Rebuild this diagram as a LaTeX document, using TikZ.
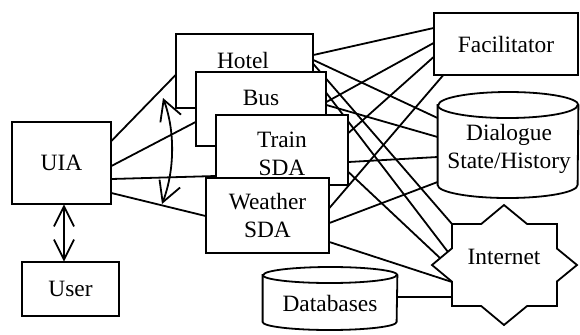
\documentclass[tikz,border=0pt]{standalone}
\usepackage{fontspec}
\setmainfont{Liberation Serif}
\usetikzlibrary{arrows.meta}
\begin{document}
\begin{tikzpicture}[x=0.5pt,y=-0.5pt,
  every node/.style={font=\fontsize{11.7}{14}\selectfont, inner sep=0pt, align=center},
  lw/.style={line width=0.9pt},
  box/.style={draw, fill=white, line width=0.9pt},
  conn/.style={line width=0.9pt},
  dbl/.style={line width=0.9pt, {Straight Barb[length=10pt,width=10pt]}-{Straight Barb[length=10pt,width=10pt]}},
  dblc/.style={line width=0.9pt, {Straight Barb[length=10pt,width=11pt]}-{Straight Barb[length=10pt,width=11pt]}}]
\useasboundingbox (0,0) rectangle (580,334);

% node frames (invisible anchors first)
\node[minimum width=49.5pt, minimum height=41pt] (uia) at (61.5,163) {};
\node[minimum width=48.5pt, minimum height=27pt] (user) at (70.5,289) {};
\node[minimum width=68.5pt, minimum height=37pt] (hotel) at (244.5,71) {};
\node[minimum width=65pt, minimum height=37pt] (bus) at (261,109) {};
\node[minimum width=66pt, minimum height=35pt] (train) at (282,150) {};
\node[minimum width=61.5pt, minimum height=37.5pt] (weather) at (267.5,215.5) {};
\node[minimum width=72pt, minimum height=31pt] (fac) at (506,44) {};
\node[minimum width=70pt, minimum height=53pt] (dlg) at (508,145) {};
\node[minimum width=67pt, minimum height=31.5pt] (db) at (330,298.5) {};

% Internet attachment points
\coordinate (i1) at (452,224);
\coordinate (i2) at (448,252);
\coordinate (i3) at (440,258);
\coordinate (i4) at (452,282);
\coordinate (i5) at (452,297);

% connectors on the right
\draw[conn] (hotel.east |- 0,55) -- (fac.west |- 0,28);
\draw[conn] (hotel.east |- 0,60) -- (dlg.west |- 0,118);
\draw[conn] (hotel.east |- 0,64) -- (i1);
\draw[conn] (bus.east |- 0,102) -- (fac.west |- 0,43);
\draw[conn] (bus.east |- 0,105) -- (dlg.west |- 0,137);
\draw[conn] (bus.east |- 0,93) -- (i2);
\draw[conn] (train.east |- 0,133) -- (fac.west |- 0,57);
\draw[conn] (train.east |- 0,162) -- (dlg.west |- 0,157);
\draw[conn] (train.east |- 0,172) -- (i3);
\draw[conn] (weather.east |- 0,208) -- (443,0 |- fac.south);
\draw[conn] (weather.east |- 0,223) -- (dlg.west |- 0,182);
\draw[conn] (weather.east |- 0,242) -- (i4);
\draw[conn] (db.east |- 0,297) -- (i5);

% connectors on the left
\draw[conn] (uia.east |- 0,141) -- (hotel.west |- 0,75);
\draw[conn] (uia.east |- 0,166) -- (bus.west |- 0,122);
\draw[conn] (uia.east |- 0,179) -- (train.west |- 0,176);
\draw[conn] (uia.east |- 0,193) -- (weather.west |- 0,216);

% boxes
\node[box, minimum width=49.5pt, minimum height=41pt] at (uia) {UIA};
\node[box, minimum width=48.5pt, minimum height=27pt] at (user) {User};
\node[box, minimum width=68.5pt, minimum height=37pt] at (hotel) {};
\node (hoteltxt) at (243,60) {Hotel};
\node[box, minimum width=65pt, minimum height=37pt] at (bus) {};
\node (bustxt) at (261,98) {Bus};
\node[box, minimum width=66pt, minimum height=35pt] at (train) {};
\node (traintxt) at (282,154) {Train\\SDA};
\node[box, minimum width=61.5pt, minimum height=37.5pt] at (weather) {Weather\\SDA};
\node[box, minimum width=72pt, minimum height=31pt] at (fac) {Facilitator};

% Dialogue cylinder
\path[box] (dlg.west |- 0,105) -- (dlg.west |- 0,185)
  arc[start angle=180,end angle=360,x radius=35pt,y radius=6.5pt]
  -- (dlg.east |- 0,105)
  arc[start angle=0,end angle=180,x radius=35pt,y radius=6.5pt] -- cycle;
\draw[lw] (dlg.west |- 0,105) arc[start angle=180,end angle=360,x radius=35pt,y radius=6.5pt];
\node (dlgtxt) at (509,149) {Dialogue\\State/History};

% Databases cylinder
\path[box] (db.west |- 0,275) -- (db.west |- 0,322)
  arc[start angle=180,end angle=360,x radius=33.5pt,y radius=4pt]
  -- (db.east |- 0,275)
  arc[start angle=0,end angle=180,x radius=33.5pt,y radius=4pt] -- cycle;
\draw[lw] (db.west |- 0,275) arc[start angle=180,end angle=360,x radius=33.5pt,y radius=4pt];
\node (dbtxt) at (330,303) {Databases};

% Internet star
\draw[box] (504,205) -- (527.1,224) -- (557,224) -- (557,248.6) -- (577,265)
  -- (557,281.4) -- (557,306) -- (527.1,306) -- (504,325) -- (481.2,306)
  -- (452,306) -- (452,281.7) -- (432,265) -- (452,248.3) -- (452,224)
  -- (481.2,224) -- cycle;
\node (internet) at (504,257) {Internet};

% arrows
\coordinate (ua) at ([xshift=1.25pt]uia.south);
\draw[dbl] (ua) -- (ua |- user.north);
\coordinate (ca1) at (163,98);
\coordinate (ca2) at (162,204);
\draw[dblc] (ca1) .. controls (175,130) and (175,170) .. (ca2);
\end{tikzpicture}
\end{document}
